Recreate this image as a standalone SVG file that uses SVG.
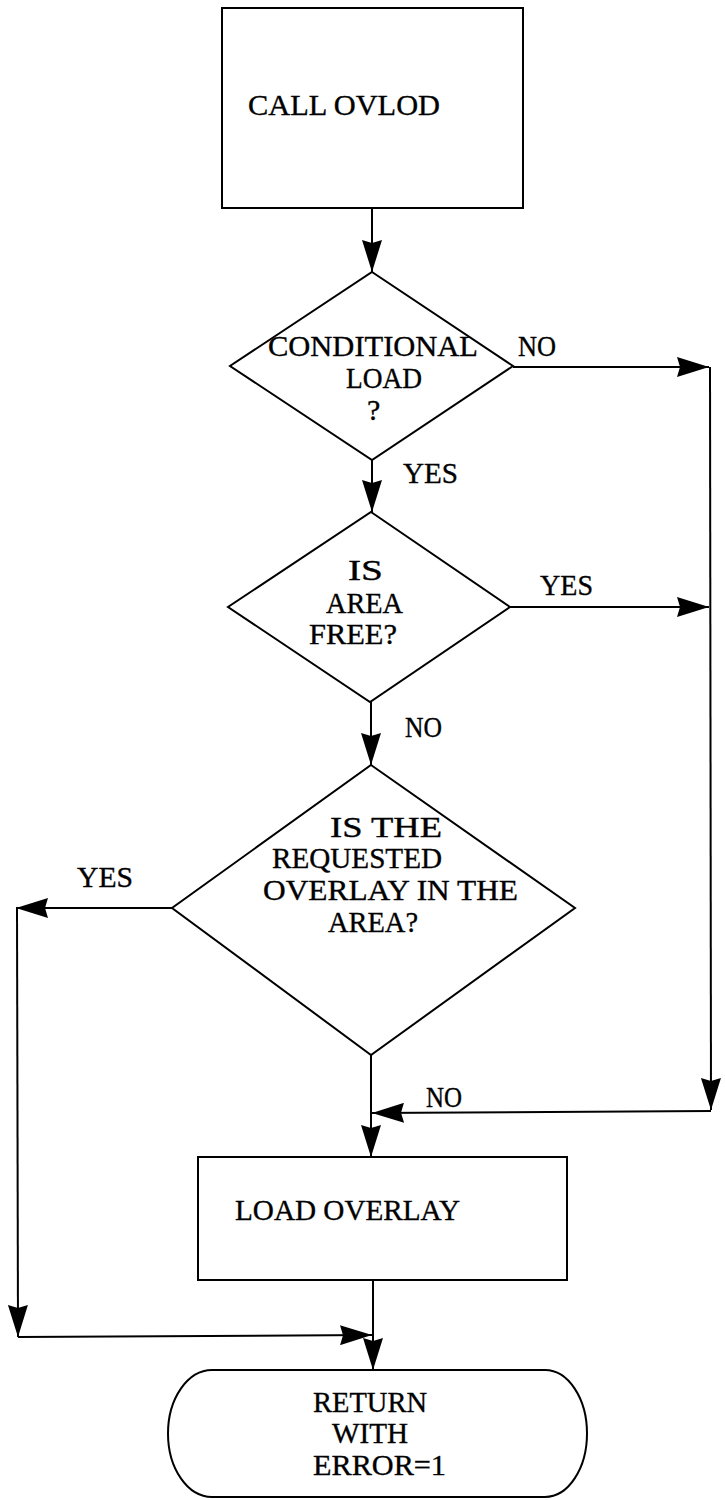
<svg xmlns="http://www.w3.org/2000/svg" width="725" height="1500" viewBox="0 0 725 1500">
  <style>
    .shape { fill: #fff; stroke: #000; stroke-width: 2; stroke-linejoin: miter; }
    .wire { fill: none; stroke: #000; stroke-width: 2; }
    .lbl { font-family: "Liberation Serif", "Times New Roman", serif; font-size: 30px; fill: #000; stroke: #000; stroke-width: 0.35; }
  </style>
  <defs>
    <marker id="arrow" viewBox="0 0 32 20" refX="32" refY="10" markerWidth="32" markerHeight="20" markerUnits="userSpaceOnUse" orient="auto">
      <polygon points="0,0 32,10 0,20 3,10" fill="#000"/>
    </marker>
  </defs>

  <!-- connectors -->
  <g id="connectors">
    <line class="wire" x1="372" y1="208" x2="372" y2="272" marker-end="url(#arrow)"/>
    <line class="wire" x1="513" y1="367" x2="709" y2="367" marker-end="url(#arrow)"/>
    <line class="wire" x1="372" y1="460" x2="372" y2="512" marker-end="url(#arrow)"/>
    <line class="wire" x1="510" y1="607" x2="709" y2="607" marker-end="url(#arrow)"/>
    <line class="wire" x1="371" y1="702" x2="371" y2="765" marker-end="url(#arrow)"/>
    <line class="wire" x1="710" y1="367" x2="711" y2="1110" marker-end="url(#arrow)"/>
    <line class="wire" x1="711" y1="1111" x2="372" y2="1113" marker-end="url(#arrow)"/>
    <line class="wire" x1="172" y1="908" x2="16" y2="908" marker-end="url(#arrow)"/>
    <line class="wire" x1="17" y1="908" x2="18" y2="1337" marker-end="url(#arrow)"/>
    <line class="wire" x1="18" y1="1337" x2="372" y2="1335" marker-end="url(#arrow)"/>
    <line class="wire" x1="371" y1="1055" x2="371" y2="1157" marker-end="url(#arrow)"/>
    <line class="wire" x1="373" y1="1280" x2="373" y2="1370" marker-end="url(#arrow)"/>
    <text class="lbl" x="518" y="356" textLength="38" lengthAdjust="spacingAndGlyphs">NO</text>
    <text class="lbl" x="403" y="483" textLength="55" lengthAdjust="spacingAndGlyphs">YES</text>
    <text class="lbl" x="540" y="595" textLength="53" lengthAdjust="spacingAndGlyphs">YES</text>
    <text class="lbl" x="405" y="737" textLength="37" lengthAdjust="spacingAndGlyphs">NO</text>
    <text class="lbl" x="77" y="887" textLength="56" lengthAdjust="spacingAndGlyphs">YES</text>
    <text class="lbl" x="426" y="1107" textLength="36" lengthAdjust="spacingAndGlyphs">NO</text>
  </g>

  <!-- start box -->
  <g id="call-ovlod">
    <rect class="shape" x="222" y="8" width="301" height="200"/>
    <text class="lbl" x="248" y="115" textLength="192" lengthAdjust="spacingAndGlyphs">CALL OVLOD</text>
  </g>

  <!-- decision: conditional load -->
  <g id="conditional-load">
    <polygon class="shape" points="372,272 513,366 372,460 230,366"/>
    <text class="lbl" x="268" y="356" textLength="210" lengthAdjust="spacingAndGlyphs">CONDITIONAL</text>
    <text class="lbl" x="346" y="388" textLength="76" lengthAdjust="spacingAndGlyphs">LOAD</text>
    <text class="lbl" x="367" y="420">?</text>
  </g>

  <!-- decision: area free -->
  <g id="area-free">
    <polygon class="shape" points="371,512 510,607 370,702 228,607"/>
    <text class="lbl" x="348" y="580" textLength="35" lengthAdjust="spacingAndGlyphs">IS</text>
    <text class="lbl" x="326" y="613" textLength="77" lengthAdjust="spacingAndGlyphs">AREA</text>
    <text class="lbl" x="309" y="644" textLength="88" lengthAdjust="spacingAndGlyphs">FREE?</text>
  </g>

  <!-- decision: overlay already in area -->
  <g id="overlay-in-area">
    <polygon class="shape" points="371,765 575,908 371,1055 172,908"/>
    <text class="lbl" x="330" y="837" textLength="112" lengthAdjust="spacingAndGlyphs">IS THE</text>
    <text class="lbl" x="272" y="868" textLength="170" lengthAdjust="spacingAndGlyphs">REQUESTED</text>
    <text class="lbl" x="263" y="900" textLength="255" lengthAdjust="spacingAndGlyphs">OVERLAY IN THE</text>
    <text class="lbl" x="328" y="932" textLength="90" lengthAdjust="spacingAndGlyphs">AREA?</text>
  </g>

  <!-- load overlay -->
  <g id="load-overlay">
    <rect class="shape" x="198" y="1157" width="369" height="123"/>
    <text class="lbl" x="235" y="1220" textLength="225" lengthAdjust="spacingAndGlyphs">LOAD OVERLAY</text>
  </g>

  <!-- terminal -->
  <g id="return-error">
    <path class="shape" d="M212,1370 L545,1370 A42,63.5 0 0 1 545,1497 L212,1497 A44,63.5 0 0 1 212,1370 Z"/>
    <text class="lbl" x="313" y="1412" textLength="114" lengthAdjust="spacingAndGlyphs">RETURN</text>
    <text class="lbl" x="332" y="1443" textLength="76" lengthAdjust="spacingAndGlyphs">WITH</text>
    <text class="lbl" x="313" y="1475" textLength="133" lengthAdjust="spacingAndGlyphs">ERROR=1</text>
  </g>
</svg>
